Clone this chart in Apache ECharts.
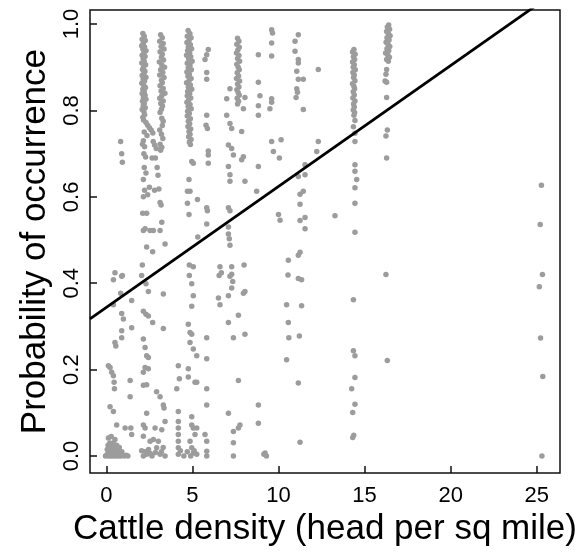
<!DOCTYPE html>
<html>
<head>
<meta charset="utf-8">
<script src="https://cdn.jsdelivr.net/npm/echarts@6/dist/echarts.min.js"></script>
<style>html,body{margin:0;padding:0;background:#fff}#c{width:586px;height:552px}</style>
</head>
<body>
<div id="c"></div>
<script>
const xTicks = [0, 5, 10, 15, 20, 25];
const yTicks = [0, 0.2, 0.4, 0.6, 0.8, 1.0];
const fitIntercept = 0.344;
const fitSlope = 0.028;

const near0 = [[0.83,0.728],[0.89,0.70],[0.93,0.68],[0.41,0.408],[0.50,0.424],[0.89,0.416],[0.93,0.418],[0.83,0.377],[0.41,0.35],[1.47,0.36],[0.89,0.33],[0.99,0.317],[1.47,0.297],[0.89,0.29],[0.89,0.274],[0.50,0.263],[0.55,0.255],[0.12,0.209],[0.215,0.205],[0.31,0.194],[0.41,0.186],[0.45,0.171],[0.47,0.156],[1.38,0.175],[1.38,0.137],[0.215,0.114],[0.41,0.103],[0.60,0.072],[1.09,0.065],[1.42,0.065],[1.47,0.05],[0.12,0.042],[0.50,0.038],[-0.05,0.0],[0.05,0.004],[0.12,0.0],[0.18,0.012],[0.25,0.0],[0.30,0.006],[0.35,0.02],[0.40,0.0],[0.45,0.01],[0.50,0.003],[0.55,0.0],[0.62,0.015],[0.70,0.0],[0.78,0.005],[0.85,0.0],[0.95,0.002],[1.05,0.0],[0.10,0.025],[0.20,0.03],[0.28,0.045],[0.40,0.03],[0.60,0.025],[0.05,0.015],[0.15,0.007],[0.35,0.004],[0.22,0.018],[0.68,0.008],[0.90,0.01],[1.15,0.002],[1.25,0.0],[0.75,0.02]];

const colA = [[2.12,0.978],[2.20,0.972],[2.08,0.965],[2.26,0.962],[2.15,0.956],[2.05,0.950],[2.22,0.947],[2.12,0.942],[2.30,0.938],[2.18,0.933],[2.08,0.928],[2.25,0.925],[2.14,0.920],[2.20,0.914],[2.06,0.910],[2.28,0.906],[2.16,0.900],[2.10,0.895],[2.24,0.891],[2.18,0.886],[2.08,0.881],[2.30,0.877],[2.14,0.872],[2.22,0.868],[2.06,0.863],[2.18,0.858],[2.27,0.853],[2.12,0.849],[2.20,0.844],[2.08,0.839],[2.25,0.835],[2.15,0.830],[2.30,0.826],[2.10,0.821],[2.20,0.816],[2.14,0.811],[2.26,0.806],[2.08,0.802],[2.18,0.797],[2.22,0.790],[2.12,0.784],[2.16,0.778],[2.30,0.772],[2.40,0.766],[2.50,0.760],[2.60,0.755],[2.20,0.750],[2.70,0.748],[2.36,0.742],[2.15,0.730],[2.10,0.722],[2.22,0.716],[2.72,0.728],[2.80,0.720],[2.90,0.712],[2.18,0.700],[2.28,0.692],[2.66,0.690],[2.20,0.668],[2.95,0.668],[2.30,0.655],[3.00,0.650],[2.15,0.640],[2.50,0.622],[2.22,0.615],[2.80,0.615],[2.40,0.605],[2.15,0.600],
  [2.11,0.562],[2.34,0.562],[2.15,0.522],[2.25,0.526],[2.54,0.522],[2.73,0.522],[2.34,0.484],[2.69,0.473],[2.09,0.442],[2.05,0.418],[2.30,0.399],[2.44,0.381],[2.15,0.335],[2.30,0.328],[2.44,0.324],[2.69,0.309],[2.15,0.271],[2.25,0.251],[2.34,0.232],[2.44,0.228],[2.25,0.205],[2.44,0.202],[2.15,0.194],[2.15,0.164],[2.34,0.165],[2.34,0.099],[2.15,0.072],[2.25,0.065],[2.15,0.046],[2.54,0.034],[2.73,0.038],[2.05,0.012],[2.25,0.01],[2.45,0.015],[2.55,0.006],[2.35,0.004],[2.15,0.0],[2.65,0.0],[2.85,0.008]];

const colB = [[3.15,0.975],[3.25,0.968],[3.10,0.960],[3.30,0.955],[3.18,0.948],[3.35,0.942],[3.12,0.936],[3.25,0.930],[3.20,0.923],[3.32,0.917],[3.08,0.912],[3.22,0.905],[3.38,0.900],[3.15,0.894],[3.28,0.888],[3.10,0.882],[3.35,0.876],[3.20,0.870],[3.25,0.864],[3.12,0.857],[3.30,0.851],[3.18,0.845],[3.40,0.840],[3.22,0.834],[3.10,0.828],[3.30,0.822],[3.16,0.816],[3.26,0.810],[3.20,0.803],[3.12,0.795],[3.22,0.782],[3.30,0.775],[3.25,0.765],[3.10,0.755],[3.20,0.745],[3.28,0.735],[3.12,0.722],[3.22,0.715],[3.15,0.708],[2.85,0.690],[3.05,0.618],
  [3.12,0.587],[3.18,0.581],[3.12,0.522],[3.22,0.541],[3.41,0.491],[3.31,0.375],[3.31,0.295],[2.92,0.149],[3.12,0.137],[3.31,0.118],[3.35,0.111],[2.83,0.065],[3.22,0.061],[3.41,0.08],[3.02,0.034],[2.92,0.019],[3.12,0.004],[3.41,0.0],[3.20,0.01],[3.30,0.02]];

const colC = [[4.75,0.985],[4.85,0.978],[4.70,0.972],[4.92,0.968],[4.80,0.962],[4.68,0.957],[4.88,0.952],[4.76,0.947],[4.95,0.943],[4.72,0.938],[4.84,0.933],[4.66,0.928],[4.90,0.924],[4.78,0.919],[4.98,0.914],[4.70,0.909],[4.86,0.904],[4.76,0.899],[4.94,0.894],[4.68,0.889],[4.82,0.884],[4.74,0.879],[4.92,0.874],[4.80,0.869],[4.66,0.864],[4.88,0.859],[4.76,0.854],[4.96,0.849],[4.72,0.844],[4.84,0.839],[4.70,0.834],[4.90,0.829],[4.78,0.824],[4.68,0.819],[4.86,0.814],[4.75,0.809],[4.93,0.804],[4.72,0.798],[4.82,0.793],[4.70,0.787],[4.88,0.781],[4.76,0.775],[4.84,0.769],[4.74,0.763],[4.90,0.757],[4.80,0.751],[4.86,0.745],[4.78,0.739],[4.92,0.733],[4.82,0.727],[4.88,0.721],
  [4.96,0.682],[5.05,0.678],[4.80,0.64],[4.86,0.613],[4.71,0.613],[4.71,0.585],[5.29,0.594],[4.80,0.559],[5.31,0.507],[4.82,0.442],[5.05,0.438],[4.82,0.418],[4.96,0.399],[5.05,0.371],[4.96,0.347],[4.76,0.305],[4.86,0.286],[4.96,0.282],[4.86,0.263],[5.05,0.248],[5.25,0.232],[4.18,0.209],[4.76,0.202],[4.24,0.179],[4.76,0.183],[5.15,0.171],[5.25,0.171],[4.09,0.156],[4.18,0.103],[4.18,0.08],[4.18,0.065],[4.18,0.05],[4.18,0.034],[4.18,0.019],[4.18,0.004],[4.96,0.091],[4.96,0.072],[5.05,0.065],[5.25,0.065],[5.15,0.05],[4.86,0.034],[4.96,0.019],[5.05,0.007],[5.25,0.004],[4.50,0.0],[4.70,0.01],[4.30,0.012],[4.90,0.0],[5.10,0.012]];

const colD = [[5.92,0.941],[5.83,0.929],[5.73,0.918],[5.83,0.888],[5.83,0.872],[5.83,0.789],[5.79,0.766],[5.87,0.758],[5.92,0.706],[5.92,0.697],[5.92,0.678],[5.83,0.575],[5.87,0.568],[5.83,0.537],[5.83,0.274],[5.83,0.225],[5.83,0.156],[5.83,0.118],[5.73,0.05],[5.83,0.034],[5.83,0.011],[5.83,0.0]];

const colE = [[7.62,0.967],[7.70,0.960],[7.58,0.953],[7.72,0.946],[7.64,0.940],[7.56,0.933],[7.70,0.927],[7.62,0.920],[7.74,0.914],[7.58,0.907],[7.66,0.900],[7.72,0.894],[7.60,0.887],[7.68,0.880],[7.56,0.874],[7.74,0.868],[7.62,0.861],[7.70,0.854],[7.58,0.848],[7.66,0.841],[7.72,0.835],[7.60,0.828],[7.68,0.821],[7.62,0.815],
  [7.18,0.85],[6.99,0.827],[8.05,0.830],[7.96,0.804],[6.99,0.789],[7.18,0.77],[7.28,0.758],[7.86,0.751],[7.09,0.72],[7.28,0.712],[7.38,0.697],[7.96,0.693],[7.86,0.686],[7.09,0.67],[7.18,0.651],[7.18,0.636],[8.05,0.636],
  [7.09,0.575],[7.18,0.568],[7.09,0.53],[7.09,0.514],[7.14,0.503],[7.18,0.488],[6.60,0.438],[6.55,0.418],[6.68,0.424],[7.28,0.438],[7.28,0.421],[7.18,0.416],[7.34,0.404],[7.28,0.389],[7.09,0.371],[8.00,0.442],[8.05,0.381],[7.96,0.377],[6.51,0.366],[6.60,0.35],[7.67,0.326],[7.09,0.309],[7.38,0.274],[8.05,0.282],[7.67,0.175],[7.09,0.099],[7.76,0.072],[7.67,0.065],[7.38,0.057],[7.38,0.031],[7.38,0.0]];

const colFG = [[8.83,0.929],[8.83,0.865],[8.92,0.834],[8.83,0.811],[8.83,0.789],[9.60,0.827],[9.60,0.819],[9.50,0.804],[9.60,0.987],[9.65,0.979],[9.60,0.956],[9.60,0.926],[9.60,0.728],[10.15,0.732],[9.70,0.705],[10.05,0.69],[8.83,0.67],[8.73,0.613],[10.0,0.559],[10.09,0.546],[8.83,0.118],[8.83,0.076],[9.22,0.007],[9.15,0.004],[9.30,0.0]];

const colH = [[11.15,0.975],[10.96,0.96],[10.96,0.937],[11.15,0.918],[11.15,0.91],[11.06,0.891],[11.15,0.872],[11.44,0.872],[11.06,0.85],[11.10,0.842],[11.02,0.83],[11.44,0.802],[12.31,0.895],[12.31,0.728],[12.22,0.705],[11.54,0.674],[11.54,0.651],[11.15,0.647],[11.44,0.613],[11.25,0.606],[11.25,0.583],[11.54,0.552],[11.25,0.545],[11.54,0.526],[13.28,0.556],
  [11.25,0.472],[11.15,0.465],[10.57,0.453],[10.55,0.419],[11.15,0.411],[11.34,0.408],[10.47,0.35],[11.34,0.348],[10.57,0.309],[10.60,0.274],[11.21,0.278],[10.47,0.223],[11.15,0.169],[11.25,0.032]];

const colI = [[14.38,0.941],[14.30,0.935],[14.45,0.930],[14.35,0.924],[14.42,0.918],[14.30,0.912],[14.40,0.906],[14.34,0.900],[14.46,0.894],[14.32,0.888],[14.40,0.882],[14.36,0.876],[14.44,0.869],[14.30,0.862],[14.38,0.856],[14.42,0.850],[14.34,0.843],[14.40,0.836],[14.32,0.829],[14.44,0.822],[14.36,0.815],[14.40,0.808],[14.34,0.801],[14.42,0.795],[14.38,0.789],
  [14.44,0.777],[14.35,0.762],[14.44,0.747],[14.44,0.728],[14.44,0.674],[14.44,0.659],[14.54,0.64],[14.44,0.621],[14.44,0.585],[14.44,0.518],[14.35,0.362],[14.35,0.244],[14.44,0.232],[14.44,0.182],[14.25,0.156],[14.44,0.12],[14.31,0.101],[14.31,0.043],[14.37,0.048]];

const colJ = [[16.40,0.998],[16.32,0.993],[16.45,0.988],[16.28,0.983],[16.38,0.978],[16.48,0.973],[16.30,0.968],[16.42,0.963],[16.25,0.958],[16.36,0.953],[16.46,0.948],[16.30,0.943],[16.40,0.938],[16.22,0.933],[16.35,0.928],[16.44,0.923],[16.28,0.918],[16.38,0.914],
  [16.28,0.895],[16.24,0.884],[16.19,0.868],[16.28,0.865],[16.28,0.83],[16.32,0.755],[16.24,0.741],[16.28,0.69],[16.24,0.42],[16.32,0.221]];

const colK = [[25.27,0.627],[25.20,0.536],[25.33,0.42],[25.15,0.392],[25.22,0.273],[25.35,0.184],[25.30,0.0]];

const xMin = -0.95, xMax = 26.35, yMin = -0.0395, yMax = 1.0325;

const points = [].concat(near0, colA, colB, colC, colD, colE, colFG, colH, colI, colJ, colK);
const fitLine = [xMin, xMax].map(x => [x, fitIntercept + fitSlope * x]);

const FONT = 'Liberation Sans, Arial, Helvetica, sans-serif';
const chart = echarts.init(document.getElementById('c'), null, {renderer: 'canvas'});
chart.setOption({
  animation: false,
  backgroundColor: '#ffffff',
  grid: {left: 90, right: 26, top: 10, bottom: 73, show: true, borderColor: '#111', borderWidth: 1.5, backgroundColor: 'transparent'},
  xAxis: {
    type: 'value', min: xMin, max: xMax,
    name: 'Cattle density (head per sq mile)', nameLocation: 'middle', nameGap: 33,
    nameTextStyle: {fontFamily: FONT, fontSize: 35, color: '#000'},
    axisLine: {show: false, onZero: false},
    axisTick: {show: true, inside: true, length: 7, customValues: xTicks, lineStyle: {color: '#111', width: 1.5}},
    axisLabel: {show: true, customValues: xTicks, margin: 12, fontFamily: FONT, fontSize: 22, color: '#000', formatter: v => String(v)},
    splitLine: {show: false}
  },
  yAxis: {
    type: 'value', min: yMin, max: yMax,
    name: 'Probability of occurrence', nameLocation: 'middle', nameGap: 36, nameRotate: 90,
    nameTextStyle: {fontFamily: FONT, fontSize: 35, color: '#000'},
    axisLine: {show: false, onZero: false},
    axisTick: {show: true, inside: true, length: 7, customValues: yTicks, lineStyle: {color: '#111', width: 1.5}},
    axisLabel: {show: true, customValues: yTicks, rotate: 90, margin: 7, fontFamily: FONT, fontSize: 22, color: '#000', formatter: v => v.toFixed(1)},
    splitLine: {show: false}
  },
  series: [
    {type: 'scatter', data: points, symbol: 'circle', symbolSize: 5.5, itemStyle: {color: '#9c9c9c', opacity: 1}, silent: true},
    {type: 'line', data: fitLine, symbol: 'none', clip: true, lineStyle: {color: '#000', width: 2.8}, silent: true}
  ]
});
</script>
</body>
</html>
